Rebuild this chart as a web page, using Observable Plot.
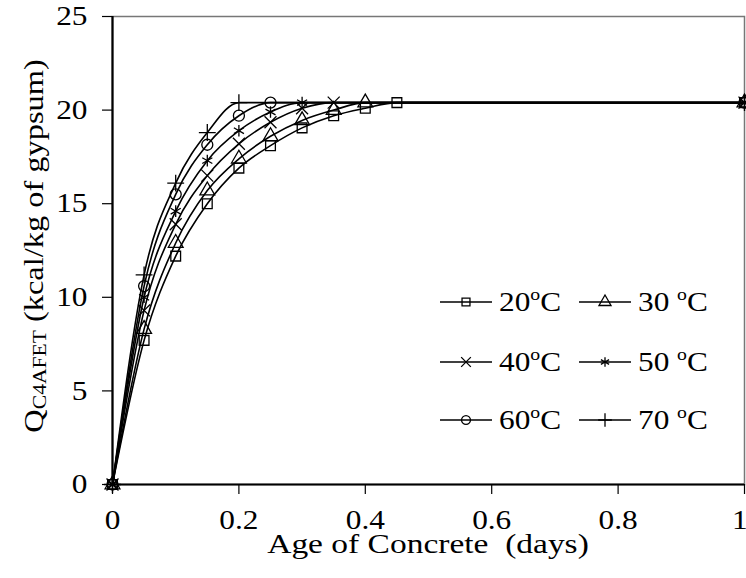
<!DOCTYPE html>
<html><head><meta charset="utf-8">
<script src="https://cdn.jsdelivr.net/npm/d3@7"></script>
<script src="https://cdn.jsdelivr.net/npm/@observablehq/plot@0.6"></script>
<style>body{margin:0;background:#fff;} svg text{white-space:pre;}</style>
</head><body><div id="chart"></div>
<script>
// Age of concrete (days) and heat Q (kcal/kg of gypsum) for each curing temperature
const ages20 = [0, 0.05, 0.1, 0.15, 0.2, 0.25, 0.3, 0.35, 0.4, 0.45, 1];
const q20    = [0, 7.7, 12.2, 15.0, 16.9, 18.1, 19.05, 19.7, 20.1, 20.4, 20.4];
const ages30 = [0, 0.05, 0.1, 0.15, 0.2, 0.25, 0.3, 0.35, 0.4, 1];
const q30    = [0, 8.3, 12.9, 15.7, 17.4, 18.6, 19.45, 20.0, 20.4, 20.4];
const ages40 = [0, 0.05, 0.1, 0.15, 0.2, 0.25, 0.3, 0.35, 1];
const q40    = [0, 9.3, 13.9, 16.5, 18.2, 19.35, 20.1, 20.4, 20.4];
const ages50 = [0, 0.05, 0.1, 0.15, 0.2, 0.25, 0.3, 1];
const q50    = [0, 10.0, 14.6, 17.3, 18.9, 19.9, 20.4, 20.4];
const ages60 = [0, 0.05, 0.1, 0.15, 0.2, 0.25, 1];
const q60    = [0, 10.6, 15.5, 18.15, 19.7, 20.4, 20.4];
const ages70 = [0, 0.05, 0.1, 0.15, 0.2, 1];
const q70    = [0, 11.2, 16.1, 18.8, 20.4, 20.4];

const temps = ["20", "30", "40", "50", "60", "70"];
const tempSep = ["", " ", "", " ", "", " "];
const symbols = ["square", "triangle", "times", "asterisk", "circle", "plus"];
const xTicks = [0, 0.2, 0.4, 0.6, 0.8, 1];
const yTicks = [0, 5, 10, 15, 20, 25];
const xTitle = "Age of Concrete  (days)";
const yTitleMain = "Q";
const yTitleSub = "C4AFET";
const yTitleRest = " (kcal/kg of gypsum)";

const allAges = [ages20, ages30, ages40, ages50, ages60, ages70];
const allQ = [q20, q30, q40, q50, q60, q70];
const rows = [];
temps.forEach((t, i) => allAges[i].forEach((a, j) => rows.push({temp: t, age: a, q: allQ[i][j], sym: symbols[i]})));

const W = 746, H = 578;
const FONT = "'Liberation Serif', 'Times New Roman', Times, serif";
const FS = 27;        // font size
const STRETCH = 1.16; // horizontal widening of the reference's lettering
const XTITLE_STRETCH = 1.24;
const YTITLE_STRETCH = 1.2;

const chart = Plot.plot({
  width: W, height: H,
  marginLeft: 112, marginRight: 2, marginTop: 16, marginBottom: 94,
  style: {background: "#fff", color: "#000", overflow: "visible"},
  x: {domain: [0, 1]},
  y: {domain: [0, 25]},
  symbol: {domain: symbols, range: symbols},
  marks: [
    Plot.frame({stroke: "#777", strokeWidth: 1.5}),
    Plot.axisX({ticks: xTicks, tickFormat: d => String(d), tickSize: 10, tickPadding: 15, label: null, strokeWidth: 1.2}),
    Plot.axisY({ticks: yTicks, tickFormat: d => String(d), tickSize: 10, tickPadding: 15, label: null, strokeWidth: 1.2}),
    Plot.ruleY([0], {stroke: "#000", strokeWidth: 2.2}),
    Plot.ruleX([0], {stroke: "#000", strokeWidth: 2.2}),
    Plot.line(rows, {x: "age", y: "q", z: "temp", curve: "monotone-x", stroke: "#000", strokeWidth: 1.6}),
    Plot.dot(rows, {x: "age", y: "q", symbol: "sym", r: 5.5, stroke: "#000", fill: "none", strokeWidth: 1.3})
  ]
});
document.getElementById("chart").appendChild(chart);

const svg = d3.select(chart);
const sym = d3.scaleOrdinal(symbols, [d3.symbolSquare, d3.symbolTriangle, d3.symbolTimes, d3.symbolAsterisk, d3.symbolCircle, d3.symbolPlus]);

// Legend (2 columns x 3 rows)
const leg = svg.append("g").attr("text-anchor", "start");
const colX = [440, 579];
const rowY = [302, 362, 420];
temps.forEach((t, i) => {
  const cx = colX[i % 2], cy = rowY[Math.floor(i / 2)];
  leg.append("line").attr("x1", cx).attr("x2", cx + 52).attr("y1", cy).attr("y2", cy).attr("stroke", "#000").attr("stroke-width", 1.6);
  leg.append("path").attr("transform", `translate(${cx + 26},${cy})`)
    .attr("d", d3.symbol(sym(symbols[i]), Math.PI * 20)())
    .attr("fill", "none").attr("stroke", "#000").attr("stroke-width", 1.3);
  const tx = leg.append("text").attr("x", cx + 59).attr("y", cy + 9).attr("fill", "#000");
  tx.append("tspan").text(t + tempSep[i]);
  tx.append("tspan").attr("class", "sup").attr("dy", -11).text("o");
  tx.append("tspan").attr("dy", 11).text("C");
});

// Uniform lettering for all texts, widened along their reading direction
svg.selectAll("text").each(function () {
  const el = d3.select(this);
  el.style("font-family", FONT).style("font-size", FS + "px").attr("fill", "#000");
  const x = +el.attr("x") || 0, y = +el.attr("y") || 0;
  const t = el.attr("transform") || "";
  el.attr("transform", `${t} translate(${x},${y}) scale(${STRETCH},1) translate(${-x},${-y})`);
});
svg.selectAll("tspan.sup").style("font-size", "17px");
// keep the last x tick label ("1") inside the picture, as in the reference
svg.selectAll("[aria-label='x-axis tick label'] text").filter(function () { return this.textContent === "1"; })
  .attr("dx", -4);

// X title
svg.append("text").attr("transform", `translate(428,553) scale(${XTITLE_STRETCH},1)`).attr("text-anchor", "middle")
  .style("font-family", FONT).style("font-size", FS + "px").attr("fill", "#000").text(xTitle);

// Y title (rotated)
const yt = svg.append("text").attr("transform", `translate(43,246) rotate(-90) scale(${YTITLE_STRETCH},1)`)
  .attr("text-anchor", "middle").style("font-family", FONT).style("font-size", FS + "px").attr("fill", "#000");
yt.append("tspan").text(yTitleMain);
yt.append("tspan").style("font-size", "18px").attr("dy", 3).text(yTitleSub);
yt.append("tspan").attr("dy", -3).text(yTitleRest);
</script>
</body></html>
